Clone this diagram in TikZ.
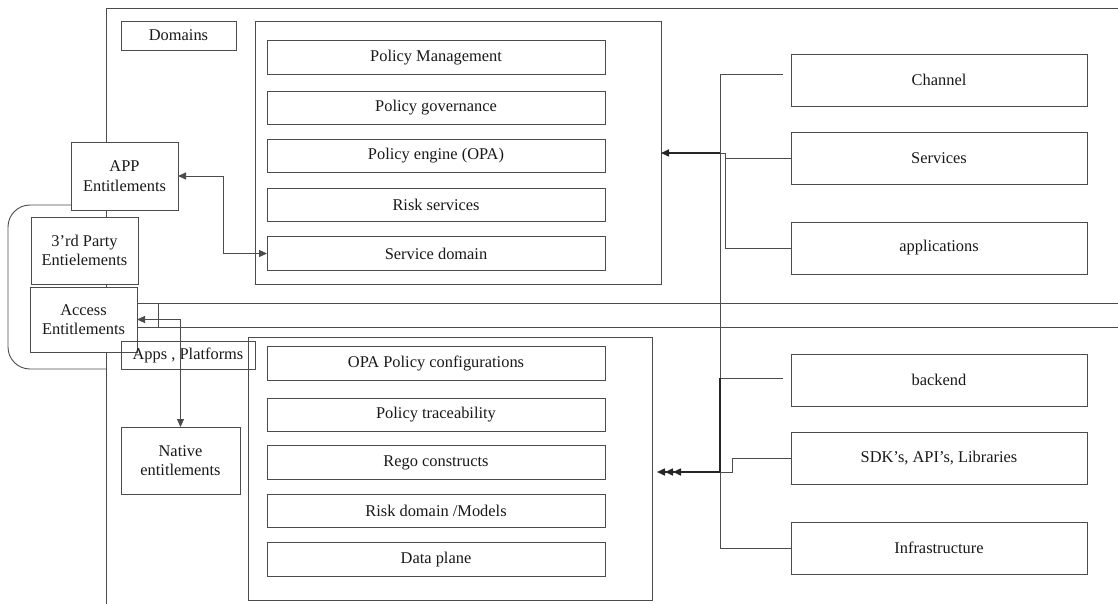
\documentclass[tikz,border=0pt]{standalone}
\usepackage{fontspec}
\setmainfont{Liberation Serif}
\usetikzlibrary{arrows.meta}
\begin{document}
\begin{tikzpicture}[x=1pt,y=-1pt,
  ln/.style={draw=black!70,line width=0.9pt},
  box/.style={ln,fill=white,inner sep=0pt,outer sep=0pt,align=center,
    font=\fontsize{16.4}{19.6}\selectfont,text=black!90},
  hollow/.style={box,fill=none},
  tip/.style={-{Triangle[length=8pt,width=7pt]}},
  tips/.style={{Triangle[length=8pt,width=7pt]}-{Triangle[length=8pt,width=7pt]}},
  bold/.style={ln,line width=1.6pt,draw=black!85}]
\useasboundingbox (0,0) rectangle (1118,604);

% outer frame
\draw[ln] (1118,8) -- (106,8) -- (106,604);

% top layer
\node[box,minimum width=115,minimum height=29] (domains) at (178.5,35.5) {Domains};
\node[box,minimum width=406,minimum height=263] (topc) at (458,152.5) {};
\node[box,minimum width=338,minimum height=33.5] (pm) at (436,57.5) {Policy Management};
\node[box,minimum width=338,minimum height=33.5] (pg) at (436,108) {Policy governance};
\node[box,minimum width=338,minimum height=33.5] (pe) at (436,156) {Policy engine (OPA)};
\node[box,minimum width=338,minimum height=33.5] (rs) at (436,205) {Risk services};
\node[box,minimum width=338,minimum height=33.5] (sd) at (436,253.5) {Service domain};

% bottom layer
\node[box,minimum width=404,minimum height=263] (botc) at (450,468.5) {};
\node[box,minimum width=338,minimum height=33.5] (opa) at (436,363.5) {OPA Policy configurations};
\node[box,minimum width=338,minimum height=33.5] (pt) at (436,415) {Policy traceability};
\node[box,minimum width=338,minimum height=33.5] (rego) at (436,462.5) {Rego constructs};
\node[box,minimum width=338,minimum height=33.5] (rdm) at (436,511) {Risk domain /Models};
\node[box,minimum width=338,minimum height=33.5] (dp) at (436,559.5) {Data plane};

% consumers on the right
\node[box,minimum width=296,minimum height=52] (channel) at (939,80) {Channel};
\node[box,minimum width=296,minimum height=52] (services) at (939,158) {Services};
\node[box,minimum width=296,minimum height=52] (applications) at (939,248) {applications};
\node[box,minimum width=296,minimum height=52] (backend) at (939,380) {backend};
\node[box,minimum width=296,minimum height=52] (sdk) at (939,458) {SDK's, API's, Libraries};
\node[box,minimum width=296,minimum height=52] (infra) at (939,548) {Infrastructure};

% entitlements on the left
\draw[ln,rounded corners=22] (71,205) -- (8,205) -- (8,369) -- (106,369);
\node[box,minimum width=107,minimum height=68] (app) at (124.5,176) {APP\\Entitlements};
\node[box,minimum width=107,minimum height=67] (third) at (84.5,250.5) {3'rd Party\\Entielements};
\node[box,minimum width=107,minimum height=65] (access) at (83.5,319.5) {Access\\Entitlements};
\node[hollow,minimum width=134,minimum height=28] (apps) at (188,355) {Apps , Platforms};
\node[box,minimum width=119,minimum height=67] (native) at (180.5,460.5) {Native\\entitlements};

% band lines from Access Entitlements
\draw[ln] (access.east |- 0,303) -- (1118,303);
\draw[ln] (access.east |- 0,327) -- (1118,327);
\draw[ln] (158,303) -- (158,327);

% entitlement links
\draw[ln,tips] (app.east) -- ++(45,0) |- (sd.west);
\draw[ln,tips] (access.east) -| (native.north);

% bus from the consumers
\coordinate (chstub) at (783,74);
\coordinate (bestub) at (783,378);
\coordinate (topj) at (720,153);
\coordinate (botj) at (720,472);
\draw[ln] (chstub) -- (720,74) -- (720,548) -- (infra.west);
\draw[ln] (bestub) -- (720,378);
\draw[bold] (720,378) -- (botj);
\draw[ln] (applications.west) -- (725.5,248) -- (725.5,153) -- (topj);
\draw[ln] (services.west) -- (725.5,158);
\draw[ln] (sdk.west) -- (732,458) -- (732,472) -- (botj);
\draw[bold,tip] (topj) -- (661,153);

\coordinate (h1) at (657,472);
\coordinate (h2) at (665,472);
\coordinate (h3) at (673,472);
\draw[bold,tip] (botj) -- (h1);
\draw[bold,tip] (botj) -- (h2);
\draw[bold,tip] (botj) -- (h3);
\end{tikzpicture}
\end{document}
